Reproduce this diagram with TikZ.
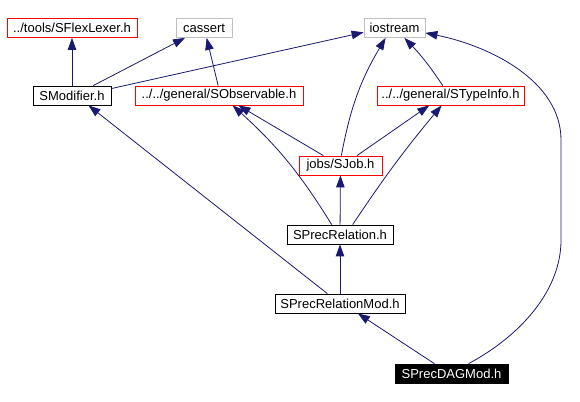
\documentclass[tikz,border=0pt]{standalone}
\usepackage{fontspec}
\setmainfont{Liberation Sans}
\usetikzlibrary{positioning,arrows.meta,calc}
\definecolor{depnavy}{RGB}{25,25,112}
\definecolor{sysgray}{RGB}{191,191,191}
\tikzstyle{docbox}=[rectangle, draw=black, fill=white, line width=0.8pt, minimum height=19pt, inner sep=0pt, text centered, font=\fontsize{13}{15}\selectfont]
\tikzstyle{nodocbox}=[docbox, draw=red]
\tikzstyle{sysbox}=[docbox, draw=sysgray]
\tikzstyle{topbox}=[docbox, fill=black, text=white]
\tikzstyle{dep}=[-{Triangle[length=12pt,width=8.5pt]}, draw=depnavy, line width=0.8pt]

\begin{document}
\begin{tikzpicture}[x=1pt, y=1pt]
\useasboundingbox (0,0) rectangle (580,401);

% system and external headers
    \node (flex) [nodocbox, minimum width=130pt] at (72,373) {../tools/SFlexLexer.h};
    \node (cassert) [sysbox, minimum width=56pt] at (204,373) {cassert};
    \node (iostream) [sysbox, minimum width=61pt] at (394.5,373) {iostream};

% general headers
    \node (smod) [docbox, minimum width=78pt] at (72,305.5) {SModifier.h};
    \node (sobs) [nodocbox, minimum width=168pt] at (219,305.5) {../../general/SObservable.h};
    \node (stype) [nodocbox, minimum width=147pt] at (450.5,305.5) {../../general/STypeInfo.h};

% jobs and relations
    \node (sjob) [nodocbox, minimum width=83pt] at (340.5,235.5) {jobs/SJob.h};
    \node (sprel) [docbox, minimum width=106pt] at (340,166.5) {SPrecRelation.h};
    \node (sprelmod) [docbox, minimum width=130pt] at (340,97.5) {SPrecRelationMod.h};
    \node (sdag) [topbox, minimum width=113pt] at (451.5,27.5) {SPrecDAGMod.h};

%% includes
\draw[dep] (smod) -- (flex);
\draw[dep] (smod.25) -- (cassert);
\draw[dep] (smod.10) -- (iostream.188);
\draw[dep] (sobs.95) -- (cassert.-75);
\draw[dep] (stype.128) to[bend right=5] (iostream.-45);

\draw[dep] (sjob.85) to[bend left=10] (iostream.-132);
\draw[dep] (sjob.150) -- (sobs.-27);
\draw[dep] (sjob.31) -- (stype.-155);

\draw[dep] (sprel) -- (sjob);
\draw[dep] (sprel.130) to[bend right=8] (sobs.-36);
\draw[dep] (sprel.38) to[bend left=3] (stype.-132);

\draw[dep] (sprelmod) -- (sprel);
\draw[dep] (sprelmod.142) -- (smod.-31);

\draw[dep] (sdag.150) -- (sprelmod.-29);
\draw[dep] (sdag.30) .. controls (520,65) and (561,110) .. (561,161) -- (561,261)
      .. controls (561,320) and (490,355) .. (iostream.-9);

\end{tikzpicture}
\end{document}
